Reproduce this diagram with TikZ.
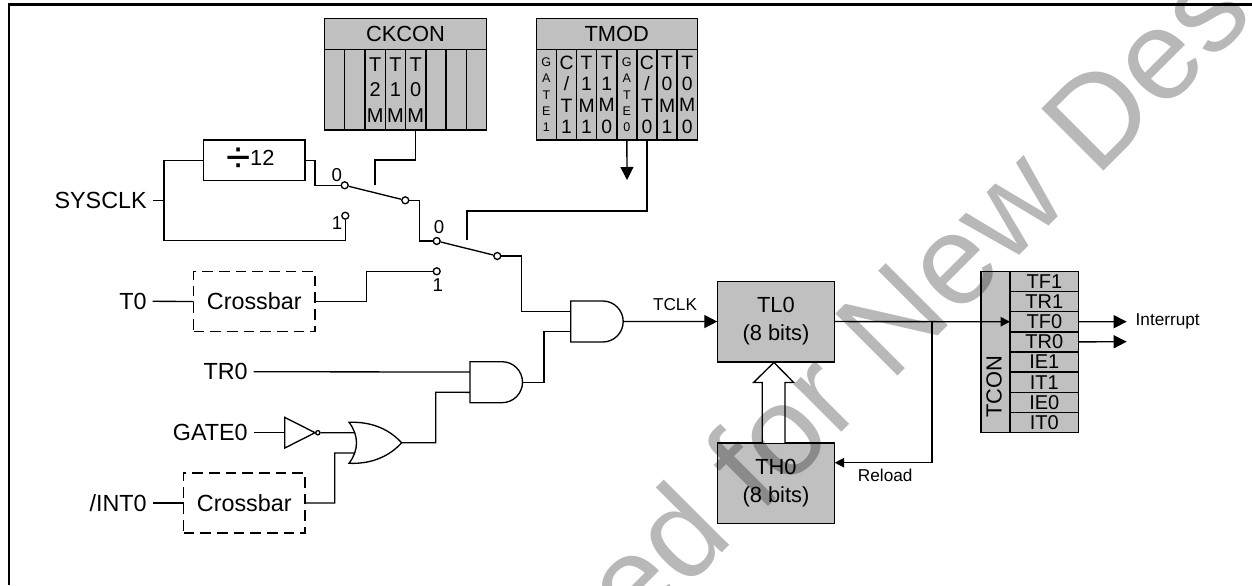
\documentclass[tikz,border=0pt]{standalone}
\usepackage{fontspec}
\setmainfont{Liberation Sans}
\usepackage{tikz}
\usetikzlibrary{positioning, arrows.meta}
\definecolor{regfill}{HTML}{C0C0C0}
\definecolor{markgray}{HTML}{B8B8B8}

\begin{document}
\begin{tikzpicture}[
        x=0.75pt, y=-0.75pt,
        font=\fontsize{16.4}{21}\selectfont,
        line width=1pt,
        reg/.style={draw, fill=regfill, line width=1.1pt, inner sep=0pt, outer sep=0pt, align=center},
        header/.style={reg, minimum height=23pt},
        ckbit/.style={reg, minimum width=15.19pt, minimum height=60.5pt, font=\fontsize{15}{19.1}\selectfont},
        tmbit/.style={reg, minimum width=15.09pt, minimum height=68pt, font=\fontsize{14.5}{16.1}\selectfont},
        tmgate/.style={tmbit, font=\fontsize{9.4}{12.15}\selectfont},
        tcbit/.style={reg, minimum width=51.5pt, minimum height=15.13pt, font=\fontsize{15}{15}\selectfont},
        timer/.style={reg, minimum width=88pt, minimum height=60.4pt},
        xbar/.style={draw, dashed, dash pattern=on 8pt off 4.5pt, inner sep=0pt, outer sep=0pt, minimum width=91pt, minimum height=45pt, font=\fontsize{17.5}{21}\selectfont},
        sig/.style={anchor=east, inner sep=0pt, inner xsep=4.5pt, outer sep=0pt, font=\fontsize{17.5}{21}\selectfont},
        pole/.style={draw, circle, fill=white, inner sep=0pt, minimum size=5.2pt},
        swlabel/.style={inner sep=0pt, font=\fontsize{14}{16}\selectfont},
        small/.style={inner sep=0pt, font=\fontsize{12.9}{15}\selectfont},
        gatebox/.style={inner sep=0pt, outer sep=0pt, minimum width=39.45pt, minimum height=30.75pt},
        arrow/.style={-{Triangle[length=9.75pt, width=9.75pt]}},
        tiparrow/.style={-{Triangle[length=7pt, width=7pt]}}
        ]
        
        \path[use as bounding box] (0,0) rectangle (1252,585);
        \draw[line width=1.6pt] (9,585) -- (9,4.5) -- (1252,4.5);
        
        % CKCON register
        \node[header, minimum width=121.5pt, anchor=north west] (ckcon) at (324.5,18.7) {CKCON};
        \node[ckbit, anchor=north west] (ck7) at (ckcon.south west) {};
        \node[ckbit, right=0pt of ck7] (ck6) {};
        \node[ckbit, right=0pt of ck6] (ck5) {T\\2\\M};
        \node[ckbit, right=0pt of ck5] (ck4) {T\\1\\M};
        \node[ckbit, right=0pt of ck4] (ck3) {T\\0\\M};
        \node[ckbit, right=0pt of ck3] (ck2) {};
        \node[ckbit, right=0pt of ck2] (ck1) {};
        \node[ckbit, right=0pt of ck1] (ck0) {};
        
        % TMOD register
        \node[header, minimum width=120.75pt, anchor=north west] (tmod) at (536.3,18.7) {TMOD};
        \node[tmgate, anchor=north west] (tm7) at (tmod.south west) {G\\A\\T\\E\\1};
        \node[tmbit, right=0pt of tm7] (tm6) {C\\/\\T\\1};
        \node[tmbit, right=0pt of tm6] (tm5) {T\\1\\M\\1};
        \node[tmbit, right=0pt of tm5] (tm4) {T\\1\\M\\0};
        \node[tmgate, right=0pt of tm4] (tm3) {G\\A\\T\\E\\0};
        \node[tmbit, right=0pt of tm3] (tm2) {C\\/\\T\\0};
        \node[tmbit, right=0pt of tm2] (tm1) {T\\0\\M\\1};
        \node[tmbit, right=0pt of tm1] (tm0) {T\\0\\M\\0};
        
        % inputs
        \node[sig] (sysclk) at (152.7,200.7) {SYSCLK};
        \node[sig] (t0) at (152.7,301.3) {T0};
        \node[sig] (tr0) at (253.7,371.7) {TR0};
        \node[sig] (gate0) at (253.7,432.7) {GATE0};
        \node[sig] (int0) at (152.7,503) {/INT0};
        
        \node[draw, minimum width=76pt, minimum height=30.2pt, inner sep=0pt, outer sep=0pt] (div) at (254.3,160.2)
            {\raisebox{-5.5pt}{\fontsize{33}{33}\selectfont ÷}12\hspace*{6pt}};
        \node[xbar] (xbar0) at (254.3,301.5) {Crossbar};
        \node[xbar] (xbar1) at (244.3,503) {Crossbar};
        
        % switches
        \node[pole] (s0a) at (344.7,185.3) {};
        \node[pole] (s0b) at (345.3,215.7) {};
        \node[pole] (s0o) at (405.3,200.3) {};
        \node[pole] (s1a) at (436.7,241) {};
        \node[pole] (s1b) at (436.7,271.3) {};
        \node[pole] (s1o) at (497.3,256) {};
        \node[swlabel] (lb0a) at (336.7,175) {0};
        \node[swlabel] (lb0b) at (337,223) {1};
        \node[swlabel] (lb1a) at (439,226.7) {0};
        \node[swlabel] (lb1b) at (437.7,285) {1};
        \coordinate (ctl0) at (375,185);
        \coordinate (ctl1) at (467,240);
        \coordinate (gatetip) at (627,180);
        
        % gates
        \node[gatebox] (and1) at (597,321.5) {};
        \node[gatebox] (and0) at (496.3,382.2) {};
        \node[gatebox] (or0) at (375.3,442.8) {};
        \node[gatebox, minimum width=22.7pt, minimum height=23pt] (inv) at (299.9,432.7) {};
        \node[draw, circle, inner sep=0pt, minimum size=3.2pt, right=0pt of inv] (invdot) {};
        \draw (and1.north west) -- ++(32,0) arc[start angle=90, end angle=-90, radius=15.375pt] -- (and1.south west) -- cycle;
        \draw (and0.north west) -- ++(32,0) arc[start angle=90, end angle=-90, radius=15.375pt] -- (and0.south west) -- cycle;
        \draw (or0.north west) .. controls +(26,-1) and +(-10,-11) .. (or0.east) .. controls +(-10,11) and +(26,1) .. (or0.south west) .. controls +(10,-13) and +(10,13) .. (or0.north west) -- cycle;
        \draw (inv.north west) -- (inv.east) -- (inv.south west) -- cycle;
        
        % timer and TCON
        \node[timer, anchor=north west] (tl0) at (717.3,281.3) {TL0\\(8 bits)};
        \node[timer, below=60.75pt of tl0] (th0) {TH0\\(8 bits)};
        \node[reg, minimum width=21.75pt, minimum height=121pt, anchor=north west] (tcon) at (981,271.3) {};
        \node[rotate=90, inner sep=0pt] (tconlb) at (994,386.7) {TCON};
        \node[tcbit, anchor=north west] (tf1) at (tcon.north east) {TF1};
        \node[tcbit, below=0pt of tf1] (tr1) {TR1};
        \node[tcbit, below=0pt of tr1] (tf0) {TF0};
        \node[tcbit, below=0pt of tf0] (tr0b) {TR0};
        \node[tcbit, below=0pt of tr0b] (ie1) {IE1};
        \node[tcbit, below=0pt of ie1] (it1) {IT1};
        \node[tcbit, below=0pt of it1] (ie0) {IE0};
        \node[tcbit, below=0pt of ie0] (it0) {IT0};
        \coordinate (reload) at (932,321.7);
        \coordinate (thin) at (834.7,462.7);
        \coordinate (irq) at (1126.7,321.7);
        \coordinate (run) at (1126.7,341.7);
        \node[small, anchor=west] (irqlb) at (1135,321.7) {Interrupt};
        \node[small, anchor=west] (reloadlb) at (857.3,475.7) {Reload};
        \node[small] (tclk) at (675,305) {TCLK};
        
        \draw (sysclk.east) -- ++(11.3,0);
        \draw (div.west) -| (164,240.7) -| (s0b);
        \draw (div.east) -- ++(10,0) |- (s0a);
        \draw (s0a) -- (s0o);
        \draw (ck3.south) -- ++(0,30) -| (ctl0);
        \draw (s0o) -- ++(14,0) |- (s1a);
        \draw (s1a) -- (s1o);
        \draw (tm2.south) |- (ctl1 |- 0,211) -- (ctl1);
        \draw[arrow] (tm3.south) -- (gatetip);
        \draw (t0.east) -- (xbar0.west);
        \draw (xbar0.east) -| (366.7,271.3) -- (s1b);
        \draw (int0.east) -- (xbar1.west);
        \draw (xbar1.east) -| (334.7,453) -- ([xshift=4pt,yshift=-7.6pt]or0.west);
        \draw (s1o) -- ++(24,0) |- ([yshift=7.6pt]and1.west);
        \draw (tr0.east) -- ([yshift=7.6pt]and0.west);
        \draw (gate0.east) -- (inv.west);
        \draw (invdot.east) -- ([xshift=4pt,yshift=7.6pt]or0.west);
        \draw (or0.east) -| (435.7,392.3) -- ([yshift=-7.6pt]and0.west);
        \draw (and0.east) -- ++(21.3,0) |- ([yshift=-7.6pt]and1.west);
        \draw[arrow] (and1.east) -- (tl0.west);
        \draw[tiparrow] (tl0.east) -- (tf0.west);
        \draw[tiparrow] (reload) |- (thin);
        \draw[arrow] (tf0.east) -- (irq);
        \draw[arrow] (tr0b.east) -- (run);
        \draw[fill=white] ([xshift=-10.3pt]th0.north) -- ++(0,-60.4) -- ++(-8.6,0) -- ++(20.3,-20) -- ++(19.7,20) -- ++(-8.7,0) -- ++(0,60.4);
        
        \begin{scope}
            \clip (0,0) rectangle (1252,585);
            \node[rotate=45, anchor=base west, inner sep=0pt, text=markgray, blend mode=multiply, font=\fontsize{95.7}{110}\selectfont] (mark) at (634.7,640) {ed for New Des};
        \end{scope}
    \end{tikzpicture}
\end{document}
